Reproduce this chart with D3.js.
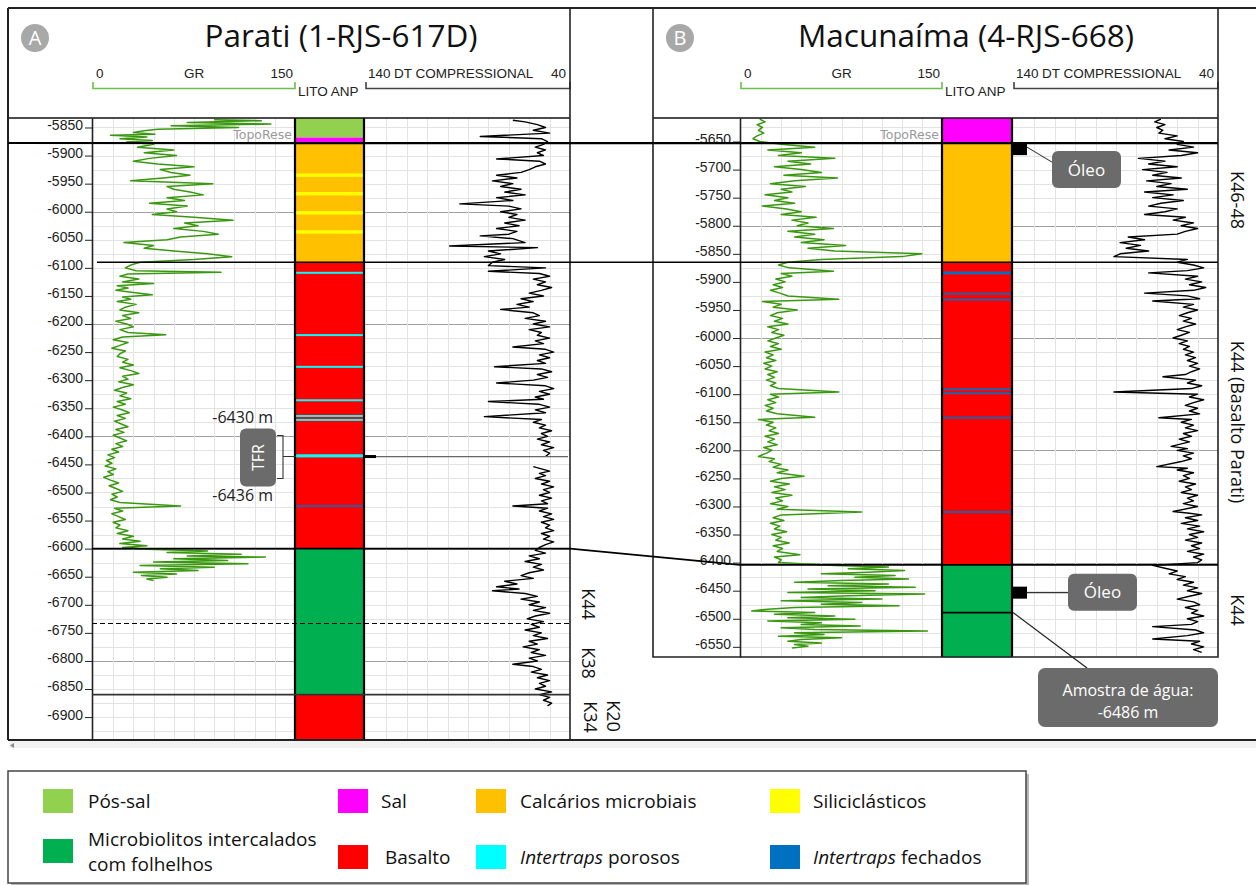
<!DOCTYPE html>
<html lang="pt">
<head>
<meta charset="utf-8">
<style>
  body { margin: 0; background: #fff; }
  svg { display: block; }
</style>
</head>
<body>
<svg id="chart" width="1256" height="885"></svg>
<script src="https://d3js.org/d3.v7.min.js"></script>
<script>
// ---------- data ----------
const depthTicksA = [-5850, -5900, -5950, -6000, -6050, -6100, -6150, -6200, -6250, -6300, -6350, -6400,
  -6450, -6500, -6550, -6600, -6650, -6700, -6750, -6800, -6850, -6900];
const depthTicksB = [-5650, -5700, -5750, -5800, -5850, -5900, -5950, -6000, -6050, -6100, -6150, -6200,
  -6250, -6300, -6350, -6400, -6450, -6500, -6550];

// lithology intervals [name, top, base] (depth, m)
const lithoA = [
  ["Pós-sal", -5833, -5868], ["Sal", -5868, -5877.6], ["Calcários microbiais", -5877.6, -6090],
  ["Basalto", -6090, -6600], ["Microbiolitos", -6600, -6860], ["Basalto", -6860, -6941]
];
const thinA = [
  ["Siliciclásticos", -5932, -5938], ["Siliciclásticos", -5965, -5971], ["Siliciclásticos", -5999, -6005],
  ["Siliciclásticos", -6033, -6039],
  ["Intertraps porosos", -6107, -6110.5], ["Intertraps porosos", -6218, -6221.5], ["Intertraps porosos", -6274.5, -6278],
  ["Intertraps porosos", -6334, -6337.5], ["Intertraps porosos", -6362, -6365.5], ["Intertraps porosos", -6369, -6372.5],
  ["Intertraps porosos", -6432, -6437.5], ["Intertraps fechados", -6522.5, -6525.5]
];
const lithoB = [
  ["Sal", -5608, -5653], ["Calcários microbiais", -5653, -5865], ["Basalto", -5865, -6404],
  ["Microbiolitos", -6404, -6569]
];
const thinB = [
  ["Intertraps fechados", -5881.5, -5886.5], ["Intertraps fechados", -5919.5, -5922.7],
  ["Intertraps fechados", -5930.1, -5933.3], ["Intertraps fechados", -6089.7, -6092.9],
  ["Intertraps fechados", -6096.8, -6100], ["Intertraps fechados", -6140.3, -6143.5],
  ["Intertraps fechados", -6308.2, -6311.4]
];

// horizons (depth, m)
const topoReseA = -5877.6, basaltTopA = -6090, k44TopA = -6600, k38TopA = -6732, k34TopA = -6860;
const topoReseB = -5653, basaltTopB = -5865, k44TopB = -6404, sampleDepthB = -6489;
const tfrA = [-6430, -6436];
const oilShowsB = [-5663.5, -6453.5];
const waterSampleB = -6486;

// GR (API) logs [depth, value]
const grA = [
  [-5836, 90], [-5838, 125], [-5841, 70], [-5844, 132], [-5847, 58], [-5850, 108], [-5853, 48],
  [-5856, 38], [-5859, 30], [-5862, 46], [-5864, 13], [-5867, 40], [-5870, 20], [-5873, 44], [-5876, 25],
  [-5880, 45], [-5885, 33], [-5890, 60], [-5895, 38], [-5900, 62], [-5905, 42], [-5910, 30], [-5915, 48],
  [-5920, 75], [-5925, 50], [-5930, 58], [-5935, 72], [-5940, 52], [-5945, 28], [-5950, 89], [-5955, 55],
  [-5960, 60], [-5965, 72], [-5970, 82], [-5975, 55], [-5980, 68], [-5985, 42], [-5990, 70], [-5995, 55],
  [-6000, 62], [-6005, 44], [-6010, 75], [-6015, 104], [-6020, 68], [-6025, 78], [-6030, 60], [-6035, 82],
  [-6040, 93], [-6045, 65], [-6050, 55], [-6055, 23], [-6060, 45], [-6065, 38], [-6070, 60], [-6075, 85],
  [-6080, 103], [-6085, 75], [-6090, 35],
  [-6095, 28], [-6100, 24], [-6105, 32], [-6108, 95], [-6111, 26], [-6115, 20], [-6120, 34], [-6125, 22],
  [-6128, 45], [-6132, 18], [-6136, 26], [-6140, 17], [-6144, 30], [-6148, 44], [-6152, 22], [-6156, 28],
  [-6160, 18], [-6165, 32], [-6170, 24], [-6175, 20], [-6180, 34], [-6185, 22], [-6190, 28], [-6195, 17],
  [-6200, 25], [-6205, 30], [-6210, 20], [-6215, 26], [-6219, 54], [-6223, 22], [-6228, 15], [-6233, 26],
  [-6238, 20], [-6243, 14], [-6248, 24], [-6253, 20], [-6258, 18], [-6263, 26], [-6268, 22], [-6273, 30],
  [-6278, 20], [-6283, 28], [-6288, 34], [-6293, 22], [-6298, 26], [-6303, 19], [-6308, 30], [-6313, 22],
  [-6318, 16], [-6323, 25], [-6328, 20], [-6333, 28], [-6338, 18], [-6343, 24], [-6348, 15], [-6353, 22],
  [-6358, 27], [-6363, 18], [-6368, 24], [-6373, 16], [-6378, 21], [-6383, 26], [-6388, 17], [-6393, 23],
  [-6398, 15], [-6403, 20], [-6408, 25], [-6413, 17], [-6418, 22], [-6423, 14], [-6428, 19], [-6433, 11],
  [-6438, 16], [-6443, 10], [-6448, 14], [-6453, 9], [-6458, 17], [-6463, 11], [-6468, 15], [-6473, 8],
  [-6478, 13], [-6483, 19], [-6488, 12], [-6493, 17], [-6498, 22], [-6503, 14], [-6508, 18], [-6513, 13],
  [-6518, 20], [-6524, 65], [-6528, 16], [-6533, 22], [-6538, 14], [-6543, 19], [-6548, 24], [-6553, 15],
  [-6558, 20], [-6563, 17], [-6568, 26], [-6573, 18], [-6578, 30], [-6583, 22], [-6587, 35], [-6591, 20],
  [-6595, 40], [-6598, 22], [-6601, 40], [-6604, 85], [-6607, 55], [-6610, 110], [-6613, 70], [-6615, 128],
  [-6618, 60], [-6621, 100], [-6624, 45], [-6627, 115], [-6630, 35], [-6633, 90], [-6636, 50], [-6639, 78],
  [-6642, 30], [-6645, 62], [-6648, 36], [-6651, 55], [-6654, 40], [-6657, 45]
];
const grB = [
  [-5610, 14], [-5615, 18], [-5620, 12], [-5625, 16], [-5630, 13], [-5635, 17], [-5640, 12], [-5645, 9],
  [-5650, 14], [-5655, 30], [-5660, 55], [-5665, 20], [-5670, 45], [-5675, 28], [-5680, 70], [-5685, 35],
  [-5690, 52], [-5695, 25], [-5700, 45], [-5705, 60], [-5710, 32], [-5715, 72], [-5720, 40], [-5725, 22],
  [-5730, 48], [-5735, 30], [-5740, 38], [-5745, 18], [-5750, 35], [-5755, 25], [-5760, 40], [-5765, 16],
  [-5770, 34], [-5775, 45], [-5780, 30], [-5785, 56], [-5790, 38], [-5795, 50], [-5800, 42], [-5805, 69],
  [-5810, 35], [-5815, 55], [-5820, 40], [-5825, 62], [-5830, 45], [-5835, 78], [-5840, 50], [-5845, 70],
  [-5850, 135], [-5855, 120], [-5860, 60], [-5865, 35],
  [-5870, 28], [-5875, 36], [-5881, 69], [-5885, 30], [-5890, 38], [-5895, 26], [-5900, 33], [-5905, 24],
  [-5910, 31], [-5915, 22], [-5920, 29], [-5925, 35], [-5931, 73], [-5935, 16], [-5940, 30], [-5945, 24],
  [-5950, 42], [-5955, 27], [-5960, 22], [-5965, 31], [-5970, 25], [-5975, 35], [-5980, 20], [-5985, 28],
  [-5990, 23], [-5995, 32], [-6000, 26], [-6005, 20], [-6010, 28], [-6015, 22], [-6020, 30], [-6025, 18],
  [-6030, 24], [-6035, 19], [-6040, 26], [-6045, 17], [-6050, 23], [-6055, 18], [-6060, 27], [-6065, 20],
  [-6070, 25], [-6075, 19], [-6080, 26], [-6085, 22], [-6090, 28], [-6096, 73], [-6100, 22], [-6105, 28],
  [-6110, 20], [-6115, 26], [-6120, 18], [-6125, 24], [-6130, 19], [-6135, 27], [-6141, 55], [-6145, 13],
  [-6150, 24], [-6155, 19], [-6160, 26], [-6165, 21], [-6170, 28], [-6175, 18], [-6180, 25], [-6185, 20],
  [-6190, 27], [-6195, 17], [-6200, 23], [-6205, 19], [-6211, 13], [-6215, 25], [-6220, 21], [-6225, 30],
  [-6230, 24], [-6235, 35], [-6240, 27], [-6246, 47], [-6250, 30], [-6255, 22], [-6260, 36], [-6265, 25],
  [-6270, 33], [-6275, 23], [-6280, 38], [-6285, 26], [-6290, 31], [-6295, 22], [-6300, 35], [-6305, 27],
  [-6310, 90], [-6315, 30], [-6320, 24], [-6325, 32], [-6330, 22], [-6335, 29], [-6340, 25], [-6345, 34],
  [-6350, 23], [-6355, 30], [-6360, 26], [-6365, 36], [-6370, 24], [-6375, 31], [-6380, 27], [-6386, 44],
  [-6390, 25], [-6395, 30], [-6400, 28],
  [-6405, 70], [-6408, 110], [-6411, 80], [-6414, 122], [-6417, 95], [-6420, 60], [-6423, 115], [-6426, 85],
  [-6429, 125], [-6432, 75], [-6435, 40], [-6438, 110], [-6441, 65], [-6444, 130], [-6447, 50], [-6450, 100],
  [-6453, 35], [-6456, 137], [-6459, 80], [-6462, 45], [-6465, 105], [-6468, 30], [-6471, 90], [-6474, 60],
  [-6477, 118], [-6480, 40], [-6483, 20], [-6486, 8], [-6489, 55], [-6492, 25], [-6495, 70], [-6498, 35],
  [-6501, 85], [-6504, 20], [-6507, 60], [-6510, 45], [-6513, 89], [-6516, 30], [-6519, 55], [-6522, 139],
  [-6525, 40], [-6528, 62], [-6531, 28], [-6534, 75], [-6537, 45], [-6540, 35], [-6543, 60], [-6546, 40],
  [-6549, 50], [-6552, 38]
];

// DT compressional (us/ft) logs [depth, value]; null = no reading
const dtA = [
  [-5837, 68], [-5840, 62], [-5845, 56], [-5850, 52], [-5855, 58], [-5860, 50], [-5866, 84], [-5870, 54],
  [-5875, 51], [-5880, 53], [-5885, 57], [-5890, 52], [-5895, 56], [-5900, 53], [-5906, 76], [-5910, 55],
  [-5915, 52], [-5920, 57], [-5925, 60], [-5930, 64], [-5935, 76], [-5940, 66], [-5945, 78], [-5950, 68],
  [-5955, 74], [-5960, 64], [-5965, 72], [-5970, 62], [-5975, 76], [-5980, 68], [-5986, 94], [-5990, 70],
  [-5995, 64], [-6000, 74], [-6005, 66], [-6010, 70], [-6015, 62], [-6020, 72], [-6025, 65], [-6030, 76],
  [-6035, 66], [-6040, 70], [-6043, 84], [-6048, 68], [-6055, 62], [-6061, 99], [-6064, 56], [-6070, 80],
  [-6075, 74], [-6080, 82], [-6085, 72], [-6090, 78],
  [-6096, 80], [-6100, 52], [-6106, 80], [-6110, 55], [-6115, 50], [-6120, 58], [-6125, 52], [-6130, 56],
  [-6135, 49], [-6140, 54], [-6145, 60], [-6150, 53], [-6155, 64], [-6160, 58], [-6165, 66], [-6170, 60],
  [-6174, 74], [-6180, 58], [-6185, 55], [-6190, 62], [-6195, 52], [-6200, 58], [-6205, 50], [-6210, 60],
  [-6215, 54], [-6220, 56], [-6225, 50], [-6230, 57], [-6235, 53], [-6241, 68], [-6245, 52], [-6250, 48],
  [-6255, 55], [-6260, 50], [-6265, 56], [-6270, 52], [-6276, 77], [-6280, 54], [-6285, 49], [-6290, 56],
  [-6295, 51], [-6300, 58], [-6305, 76], [-6310, 52], [-6315, 48], [-6320, 55], [-6325, 50], [-6330, 57],
  [-6334, 53], [-6338, 80], [-6343, 55], [-6348, 50], [-6353, 57], [-6358, 52], [-6365, 82], [-6370, 54],
  [-6375, 58], [-6380, 52], [-6385, 55], [-6390, 49], [-6395, 54], [-6400, 51], [-6405, 56], [-6410, 50],
  [-6415, 54], [-6420, 48], [-6425, 53], [-6430, 50], [-6436, 52], [-6440, null],
  [-6454, 58], [-6458, 54], [-6462, 50], [-6466, 55], [-6470, 52], [-6475, 57], [-6480, 50], [-6485, 54],
  [-6490, 48], [-6495, 53], [-6500, 50], [-6505, 55], [-6510, 49], [-6515, 54], [-6520, 51], [-6524, 68],
  [-6528, 51], [-6533, 55], [-6538, 49], [-6543, 53], [-6548, 48], [-6553, 54], [-6558, 50], [-6563, 52],
  [-6568, 48], [-6573, 54], [-6578, 50], [-6583, 53], [-6588, 48], [-6593, 52], [-6598, 55],
  [-6603, 57], [-6608, 52], [-6613, 60], [-6618, 55], [-6623, 62], [-6628, 54], [-6633, 58], [-6638, 53],
  [-6643, 60], [-6648, 64], [-6653, 58], [-6658, 72], [-6663, 66], [-6668, 76], [-6672, 65], [-6675, 78],
  [-6680, 62], [-6685, 56], [-6690, 64], [-6695, 55], [-6700, 60], [-6705, 52], [-6710, 58], [-6715, 50],
  [-6720, 57], [-6725, 61], [-6730, 53], [-6735, 59], [-6740, 55], [-6745, 62], [-6750, 54], [-6755, 58],
  [-6760, 51], [-6765, 60], [-6770, 56], [-6775, 63], [-6780, 55], [-6785, 59], [-6790, 52], [-6795, 60],
  [-6800, 56], [-6806, 68], [-6810, 58], [-6815, 54], [-6820, 59], [-6825, 51], [-6830, 56], [-6835, 50],
  [-6840, 55], [-6845, 52], [-6850, 57], [-6855, 49], [-6860, 55], [-6865, 50], [-6870, 53], [-6875, 49],
  [-6880, 51]
];
const dtB = [
  [-5610, 68], [-5615, 71], [-5620, 66], [-5625, 70], [-5630, 67], [-5635, 69], [-5640, 60], [-5645, 66],
  [-5650, 57], [-5655, 60], [-5660, 52], [-5665, 64], [-5670, 50], [-5675, 58], [-5680, 79], [-5685, 66],
  [-5690, 74], [-5695, 60], [-5700, 77], [-5705, 65], [-5710, 72], [-5715, 58], [-5720, 75], [-5725, 63],
  [-5730, 70], [-5735, 55], [-5740, 76], [-5745, 62], [-5750, 72], [-5755, 57], [-5760, 68], [-5765, 74],
  [-5770, 60], [-5775, 66], [-5780, 76], [-5785, 56], [-5790, 62], [-5795, 52], [-5800, 58], [-5805, 50],
  [-5810, 56], [-5815, 60], [-5820, 84], [-5825, 76], [-5830, 88], [-5835, 78], [-5840, 85], [-5845, 74],
  [-5850, 88], [-5855, 91], [-5860, 55], [-5865, 60],
  [-5870, 52], [-5875, 47], [-5880, 55], [-5884, 74], [-5890, 50], [-5895, 56], [-5900, 48], [-5905, 54],
  [-5910, 46], [-5915, 52], [-5920, 76], [-5925, 55], [-5930, 49], [-5934, 72], [-5940, 52], [-5945, 57],
  [-5950, 50], [-5955, 55], [-5960, 59], [-5965, 53], [-5970, 57], [-5975, 51], [-5980, 56], [-5985, 60],
  [-5990, 54], [-5995, 58], [-6000, 62], [-6005, 55], [-6010, 59], [-6015, 54], [-6020, 57], [-6025, 52],
  [-6030, 56], [-6035, 51], [-6040, 55], [-6045, 50], [-6050, 54], [-6055, 49], [-6060, 53], [-6065, 56],
  [-6069, 67], [-6075, 51], [-6080, 55], [-6085, 48], [-6090, 53], [-6096, 91], [-6100, 50], [-6105, 54],
  [-6110, 47], [-6115, 52], [-6120, 56], [-6125, 50], [-6130, 54], [-6135, 49], [-6142, 69], [-6145, 53],
  [-6150, 58], [-6155, 52], [-6160, 56], [-6165, 50], [-6170, 57], [-6175, 53], [-6180, 59], [-6185, 54],
  [-6193, 63], [-6197, 55], [-6200, 60], [-6205, 52], [-6210, 57], [-6215, 53], [-6220, 58], [-6229, 70],
  [-6232, 55], [-6235, 60], [-6240, 52], [-6245, 57], [-6250, 54], [-6255, 59], [-6260, 51], [-6265, 56],
  [-6270, 53], [-6275, 58], [-6280, 50], [-6285, 55], [-6290, 52], [-6295, 57], [-6300, 50], [-6309, 62],
  [-6312, 54], [-6315, 48], [-6320, 56], [-6325, 50], [-6330, 58], [-6335, 49], [-6340, 55], [-6345, 47],
  [-6350, 54], [-6355, 50], [-6360, 56], [-6365, 48], [-6370, 53], [-6375, 49], [-6380, 55], [-6385, 47],
  [-6390, 52], [-6395, 48], [-6400, 50],
  [-6405, 72], [-6410, 66], [-6415, 60], [-6420, 64], [-6425, 56], [-6430, 60], [-6435, 52], [-6440, 57],
  [-6445, 50], [-6450, 55], [-6455, 48], [-6460, 54], [-6465, 60], [-6470, 52], [-6475, 49], [-6480, 56],
  [-6485, 50], [-6490, 53], [-6495, 47], [-6500, 55], [-6505, 50], [-6510, 53], [-6514, 72], [-6520, 51],
  [-6525, 47], [-6530, 55], [-6536, 72], [-6540, 49], [-6545, 53], [-6550, 47], [-6555, 52], [-6560, 48]
];

// legend
const legendNames = ["Pós-sal", "Sal", "Calcários microbiais", "Siliciclásticos",
  "Microbiolitos", "Basalto", "Intertraps porosos", "Intertraps fechados"];
const lithoColor = {
  "Pós-sal": "#92d050", "Sal": "#ff00ff", "Calcários microbiais": "#ffc000", "Siliciclásticos": "#ffff00",
  "Microbiolitos": "#00b050", "Basalto": "#ff0000", "Intertraps porosos": "#00ffff", "Intertraps fechados": "#0070c0"
};

// ---------- drawing ----------
const svg = d3.select("#chart");
const sans = "'Open Sans', 'Noto Sans', sans-serif";
const arial = "'Liberation Sans', Arial, sans-serif";

svg.append("rect").attr("width", 1256).attr("height", 885).attr("fill", "#fff");

const wellA = {
  label: "A", title: "Parati (1-RJS-617D)", titleX: 341, x0: 8, axisX: 92, grRange: [93, 295], lito: [295, 364],
  dtRange: [366, 570], right: 570, top: 118, bottom: 740, depthTop: -5833.1, depthBottom: -6940.8,
  ticks: depthTicksA, gr: grA, dt: dtA, litho: lithoA, thin: thinA, topo: topoReseA
};
const wellB = {
  label: "B", title: "Macunaíma (4-RJS-668)", titleX: 966, x0: 653, axisX: 740, grRange: [741, 942], lito: [942, 1012],
  dtRange: [1014, 1218], right: 1218, top: 118, bottom: 657, depthTop: -5608.1, depthBottom: -6568.1,
  ticks: depthTicksB, gr: grB, dt: dtB, litho: lithoB, thin: thinB, topo: topoReseB
};

const px = v => Math.round(v) + 0.5;

function drawWell(w) {
  const g = svg.append("g");
  const y = d3.scaleLinear().domain([w.depthTop, w.depthBottom]).range([w.top, w.bottom]);
  const xGR = d3.scaleLinear().domain([0, 150]).range(w.grRange);
  const xDT = d3.scaleLinear().domain([140, 40]).range(w.dtRange);
  w.y = y;

  // grid
  const grid = g.append("g");
  const hLines = d3.range(-5600, -7000, -25).filter(d => d < w.depthTop && d > w.depthBottom);
  [[w.axisX, w.lito[0]], [w.lito[1], w.right]].forEach(([x1, x2]) => {
    grid.append("g").selectAll("line").data(hLines).join("line")
      .attr("x1", x1).attr("x2", x2)
      .attr("y1", d => px(y(d))).attr("y2", d => px(y(d)))
      .attr("stroke", d => d % 200 === 0 ? "#a0a0a0" : "#e3e3e3").attr("stroke-width", 1);
  });
  grid.append("g").selectAll("line").data(d3.range(15, 150, 15)).join("line")
    .attr("x1", d => px(xGR(d))).attr("x2", d => px(xGR(d)))
    .attr("y1", w.top).attr("y2", w.bottom).attr("stroke", "#e3e3e3");
  grid.append("g").selectAll("line").data(d3.range(130, 40, -10)).join("line")
    .attr("x1", d => px(xDT(d))).attr("x2", d => px(xDT(d)))
    .attr("y1", w.top).attr("y2", w.bottom).attr("stroke", "#e3e3e3");

  // logs
  const curve = xs => d3.line().defined(d => d[1] != null).x(d => xs(d[1])).y(d => y(d[0]));
  g.append("path").datum(w.gr).attr("d", curve(xGR))
    .attr("fill", "none").attr("stroke", "#3a9810").attr("stroke-width", 1.5).attr("stroke-linejoin", "round");
  g.append("path").datum(w.dt).attr("d", curve(xDT))
    .attr("fill", "none").attr("stroke", "#000").attr("stroke-width", 1.4).attr("stroke-linejoin", "round");

  // "TopoRese" label
  g.append("text").attr("x", w.lito[0] - 3).attr("y", y(w.topo) - 4)
    .attr("text-anchor", "end").attr("font-family", "'DejaVu Sans', sans-serif")
    .attr("font-size", 12.5).attr("fill", "#9a9a9a").text("TopoRese");

  // lithology column
  const lw = w.lito[1] - w.lito[0];
  g.append("g").selectAll("rect").data(w.litho).join("rect")
    .attr("x", w.lito[0]).attr("width", lw)
    .attr("y", d => y(d[1])).attr("height", d => y(d[2]) - y(d[1]))
    .attr("fill", d => lithoColor[d[0]]);
  g.append("g").selectAll("rect").data(w.thin).join("rect")
    .attr("x", w.lito[0] + 1).attr("width", lw - 2)
    .attr("y", d => y(d[1])).attr("height", d => y(d[2]) - y(d[1]))
    .attr("fill", d => lithoColor[d[0]]);
  w.lito.forEach(xx => g.append("line").attr("x1", xx).attr("x2", xx)
    .attr("y1", w.top).attr("y2", w.bottom).attr("stroke", "#000").attr("stroke-width", 2.2));

  // depth axis
  const axis = d3.axisLeft(y).tickValues(w.ticks).tickSize(7).tickSizeOuter(0).tickPadding(2)
    .tickFormat(d => String(d));
  const ax = g.append("g").attr("transform", `translate(${w.axisX},0)`).call(axis);
  ax.select(".domain").attr("stroke", "#222").attr("stroke-width", 1.6);
  ax.selectAll(".tick line").attr("stroke", "#222");
  ax.selectAll("text").attr("font-family", arial).attr("font-size", 14).attr("fill", "#222").attr("dy", "0.14em");

  // header
  g.append("line").attr("x1", w.x0).attr("x2", w.right).attr("y1", w.top).attr("y2", w.top)
    .attr("stroke", "#111").attr("stroke-width", 1.6);
  g.append("circle").attr("cx", w.x0 + 27).attr("cy", 38).attr("r", 14).attr("fill", "#a8a8a8");
  g.append("text").attr("x", w.x0 + 27).attr("y", 38).attr("dy", "0.36em").attr("text-anchor", "middle")
    .attr("font-family", sans).attr("font-size", 20).attr("fill", "#fff").text(w.label);
  g.append("text").attr("x", w.titleX).attr("y", 47).attr("text-anchor", "middle")
    .attr("font-family", sans).attr("font-size", 31.5).attr("fill", "#111").text(w.title);

  const hdr = g.append("g").attr("font-family", arial).attr("font-size", 13.5).attr("fill", "#222");
  hdr.append("text").attr("x", w.grRange[0] + 3).attr("y", 78).text("0");
  hdr.append("text").attr("x", (w.grRange[0] + w.grRange[1]) / 2).attr("y", 78).attr("text-anchor", "middle").text("GR");
  hdr.append("text").attr("x", w.grRange[1] - 2).attr("y", 78).attr("text-anchor", "end").text("150");
  hdr.append("text").attr("x", w.lito[0] + 3).attr("y", 96).text("LITO ANP");
  hdr.append("text").attr("x", w.dtRange[0] + 2).attr("y", 78).text("140");
  hdr.append("text").attr("x", w.dtRange[0] + 28).attr("y", 78).text("DT COMPRESSIONAL");
  hdr.append("text").attr("x", w.right - 4).attr("y", 78).attr("text-anchor", "end").text("40");
  g.append("path").attr("d", `M${w.grRange[0]},82V88.5H${w.grRange[1]}V82`)
    .attr("fill", "none").attr("stroke", "#6cbf4a").attr("stroke-width", 1.6);
  g.append("path").attr("d", `M${w.dtRange[0]},82V88.5H${w.right}V82`)
    .attr("fill", "none").attr("stroke", "#444").attr("stroke-width", 1.6);

  return g;
}

drawWell(wellA);
drawWell(wellB);
const yA = wellA.y, yB = wellB.y;

// frames
const frame = svg.append("g").attr("fill", "none").attr("stroke", "#222");
frame.append("path").attr("d", "M8,8H1256M8,740H1256M8,8V740").attr("stroke-width", 2);
frame.append("path").attr("d", "M570,8V740").attr("stroke-width", 1.6);
frame.append("path").attr("d", "M653,8V657H1218V8").attr("stroke-width", 1.6);
svg.append("rect").attr("x", 9).attr("y", 741).attr("width", 1247).attr("height", 7).attr("fill", "#f1f1f1");
svg.append("path").attr("d", "M10,745.5L14,743V748Z").attr("fill", "#888");

// horizons
const hz = svg.append("g").attr("fill", "none").attr("stroke", "#000");
hz.append("line").attr("x1", 8).attr("x2", 1218).attr("y1", yA(topoReseA)).attr("y2", yB(topoReseB)).attr("stroke-width", 2.2);
hz.append("line").attr("x1", 97).attr("x2", 1218).attr("y1", yA(basaltTopA)).attr("y2", yB(basaltTopB)).attr("stroke-width", 1.3);
hz.append("path").attr("d", `M92,${yA(k44TopA)}H570L740,${yB(k44TopB)}H1218`).attr("stroke-width", 1.6);
hz.append("line").attr("x1", 92).attr("x2", 570).attr("y1", px(yA(k38TopA))).attr("y2", px(yA(k38TopA)))
  .attr("stroke-width", 1.2).attr("stroke-dasharray", "5,3");
hz.append("line").attr("x1", 92).attr("x2", 570).attr("y1", yA(k34TopA)).attr("y2", yA(k34TopA))
  .attr("stroke", "#333").attr("stroke-width", 1.6);
hz.append("line").attr("x1", wellB.lito[0]).attr("x2", wellB.lito[1]).attr("y1", yB(sampleDepthB)).attr("y2", yB(sampleDepthB))
  .attr("stroke-width", 1.6);

// zone labels (rotated)
const zones = [
  ["K44", 588, 604], ["K38", 588, 663], ["K34", 590, 717], ["K20", 613, 716],
  ["K46-48", 1237, 200], ["K44 (Basalto Parati)", 1237, 422], ["K44", 1237, 610]
];
svg.append("g").selectAll("text").data(zones).join("text")
  .attr("transform", d => `translate(${d[1]},${d[2]}) rotate(90)`)
  .attr("text-anchor", "middle").attr("dy", "0.35em")
  .attr("font-family", sans).attr("font-size", 18).attr("fill", "#111").text(d => d[0]);

// TFR annotation (well A)
const tfrY = yA(tfrA[1]);
const ann = svg.append("g");
ann.append("line").attr("x1", wellA.lito[1]).attr("x2", 568).attr("y1", tfrY).attr("y2", tfrY)
  .attr("stroke", "#666").attr("stroke-width", 1.2);
ann.append("rect").attr("x", wellA.lito[1]).attr("y", tfrY - 1.5).attr("width", 12).attr("height", 3).attr("fill", "#000");
ann.append("path").attr("d", `M277,${tfrY - 21}H283V${tfrY + 22}H277M283,${tfrY}H296`)
  .attr("fill", "none").attr("stroke", "#333").attr("stroke-width", 1.1);
ann.append("rect").attr("x", 240).attr("y", tfrY - 28).attr("width", 36).attr("height", 58).attr("rx", 6)
  .attr("fill", "#6b6b6b");
ann.append("text").attr("transform", `translate(258,${tfrY + 1}) rotate(-90)`).attr("text-anchor", "middle")
  .attr("dy", "0.36em").attr("font-family", sans).attr("font-size", 16).attr("fill", "#fff").text("TFR");
ann.append("text").attr("x", 273).attr("y", tfrY - 34).attr("text-anchor", "end")
  .attr("font-family", sans).attr("font-size", 16).attr("fill", "#222").text(`${tfrA[0]} m`);
ann.append("text").attr("x", 273).attr("y", tfrY + 44).attr("text-anchor", "end")
  .attr("font-family", sans).attr("font-size", 16).attr("fill", "#222").text(`${tfrA[1]} m`);

// oil shows & water sample (well B)
const ox = wellB.lito[1] + 1;
oilShowsB.forEach(d => ann.append("rect").attr("x", ox).attr("y", yB(d) - 6).attr("width", 14).attr("height", 12).attr("fill", "#000"));
const o1 = yB(oilShowsB[0]), o2 = yB(oilShowsB[1]);
ann.append("path").attr("d", `M${ox + 14},${o1 - 2}L1052,${o1 + 13}M${ox + 14},${o2}H1068`)
  .attr("stroke", "#333").attr("stroke-width", 1.1).attr("fill", "none");
[[1052, o1 + 2], [1068, o2 - 19]].forEach(([bx, by]) => {
  ann.append("rect").attr("x", bx).attr("y", by).attr("width", 69).attr("height", 37).attr("rx", 6).attr("fill", "#6b6b6b");
  ann.append("text").attr("x", bx + 34.5).attr("y", by + 18.5).attr("dy", "0.36em").attr("text-anchor", "middle")
    .attr("font-family", sans).attr("font-size", 17).attr("fill", "#fff").text("Óleo");
});
const sy = yB(sampleDepthB);
ann.append("line").attr("x1", wellB.lito[1] + 1).attr("y1", sy).attr("x2", 1087).attr("y2", 668)
  .attr("stroke", "#222").attr("stroke-width", 1.2);
ann.append("rect").attr("x", 1038).attr("y", 668).attr("width", 180).attr("height", 59).attr("rx", 7).attr("fill", "#6b6b6b");
ann.append("text").attr("x", 1128).attr("y", 690).attr("dy", "0.36em").attr("text-anchor", "middle")
  .attr("font-family", sans).attr("font-size", 16).attr("fill", "#fff").text("Amostra de água:");
ann.append("text").attr("x", 1128).attr("y", 712).attr("dy", "0.36em").attr("text-anchor", "middle")
  .attr("font-family", sans).attr("font-size", 16).attr("fill", "#fff").text(`${waterSampleB} m`);

// legend
const lg = svg.append("g");
lg.append("rect").attr("x", 11).attr("y", 774).attr("width", 1018).attr("height", 112).attr("fill", "#b8b8b8");
lg.append("rect").attr("x", 8).attr("y", 771).attr("width", 1018).attr("height", 112)
  .attr("fill", "#fff").attr("stroke", "#444").attr("stroke-width", 1.5);
const colX = [43, 338, 476, 770];
const textX = [88, 381, 520, 813];
const rowY = [801, 857];
legendNames.forEach((name, i) => {
  const c = i % 4, r = Math.floor(i / 4);
  const sy0 = r === 1 && c === 0 ? rowY[r] - 6 : rowY[r];
  lg.append("rect").attr("x", colX[c]).attr("y", sy0 - 12).attr("width", 30).attr("height", 24)
    .attr("fill", lithoColor[name]);
  const t = lg.append("text").attr("font-family", sans).attr("font-size", 19).attr("fill", "#111")
    .attr("x", textX[c] + (name === "Basalto" ? 4 : 0)).attr("y", rowY[r]).attr("dy", "0.36em");
  if (name === "Microbiolitos") {
    t.attr("y", rowY[r] - 18);
    t.append("tspan").text("Microbiolitos intercalados");
    t.append("tspan").attr("x", textX[c]).attr("dy", "1.3em").text("com folhelhos");
  } else if (name.startsWith("Intertraps")) {
    t.append("tspan").attr("font-style", "italic").text("Intertraps");
    t.append("tspan").text(" " + name.split(" ")[1]);
  } else {
    t.text(name);
  }
});
</script>
</body>
</html>
